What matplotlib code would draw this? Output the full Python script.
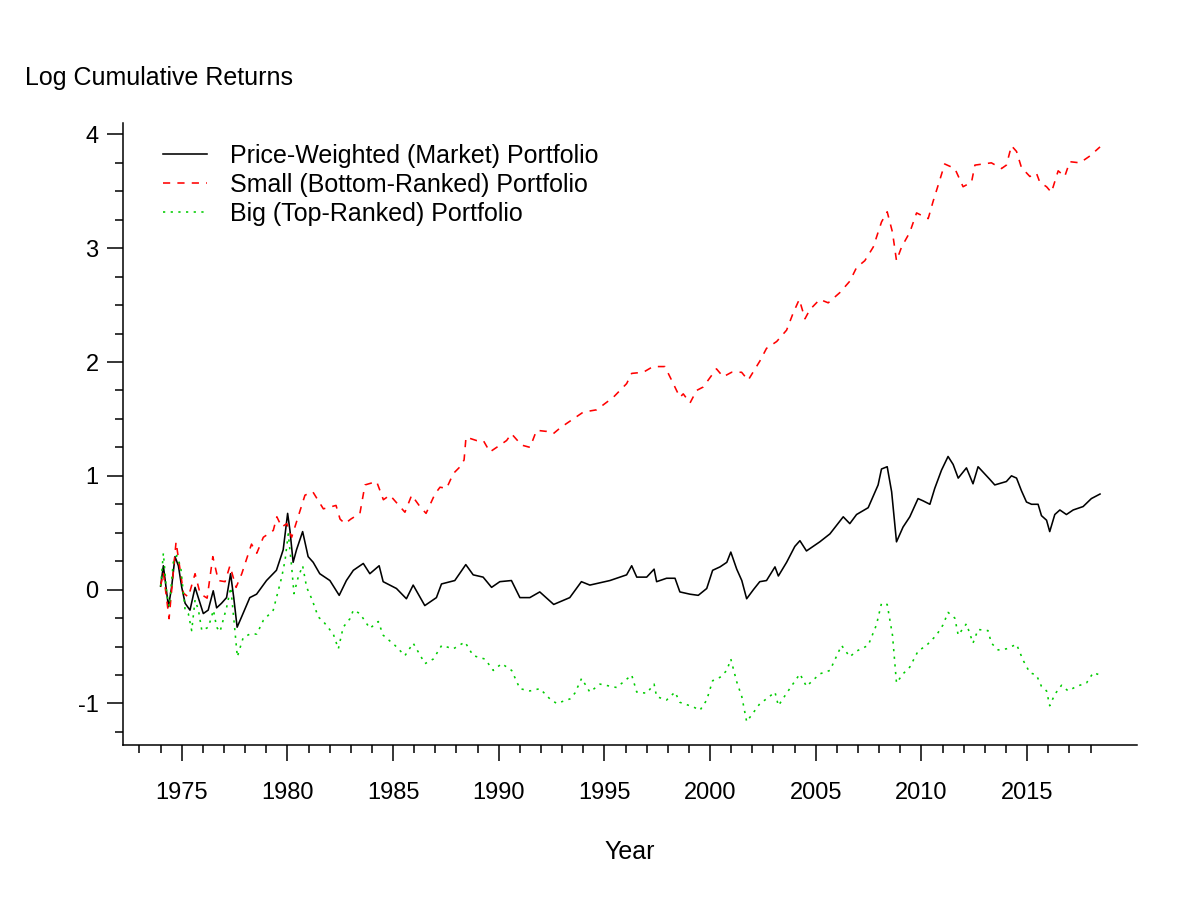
import matplotlib
matplotlib.use("Agg")
import matplotlib.pyplot as plt
import numpy as np

plt.rcParams['font.family'] = ['Liberation Sans', 'DejaVu Sans']

# ---------------- data ----------------
market_year = [1974.00, 1974.13, 1974.37, 1974.52, 1974.68, 1974.84, 1975.00, 1975.16, 1975.39, 1975.63,
               1975.87, 1976.02, 1976.25, 1976.49, 1976.65, 1976.88, 1977.12, 1977.31, 1977.46, 1977.62,
               1977.83, 1978.22, 1978.54, 1979.01, 1979.48, 1979.80, 1980.01, 1980.12, 1980.27, 1980.43,
               1980.72, 1980.98, 1981.22, 1981.53, 1982.01, 1982.45, 1982.79, 1983.12, 1983.59, 1983.90,
               1984.34, 1984.53, 1985.16, 1985.63, 1985.95, 1986.50, 1987.05, 1987.29, 1987.92, 1988.44,
               1988.79, 1989.26, 1989.66, 1990.05, 1990.60, 1991.00, 1991.47, 1991.94, 1992.60, 1993.36,
               1993.91, 1994.31, 1995.26, 1996.05, 1996.29, 1996.53, 1997.00, 1997.35, 1997.47, 1997.94,
               1998.34, 1998.57, 1999.05, 1999.44, 1999.84, 2000.12, 2000.47, 2000.79, 2000.98, 2001.26,
               2001.50, 2001.73, 2002.05, 2002.35, 2002.67, 2003.07, 2003.23, 2003.62, 2004.01, 2004.25,
               2004.56, 2005.19, 2005.67, 2006.30, 2006.61, 2006.93, 2007.48, 2007.95, 2008.11, 2008.38,
               2008.59, 2008.82, 2009.13, 2009.45, 2009.84, 2010.08, 2010.40, 2010.63, 2010.95, 2011.26,
               2011.50, 2011.74, 2012.13, 2012.44, 2012.68, 2013.23, 2013.47, 2014.02, 2014.26, 2014.50,
               2014.73, 2014.97, 2015.21, 2015.52, 2015.68, 2015.92, 2016.07, 2016.31, 2016.55, 2016.86,
               2017.18, 2017.65, 2018.04, 2018.45]
market_val = [0.03, 0.21, -0.15, 0.02, 0.29, 0.21, 0.02, -0.12, -0.18, 0.02,
              -0.12, -0.21, -0.18, -0.01, -0.16, -0.12, -0.07, 0.14, -0.07, -0.33,
              -0.24, -0.07, -0.04, 0.08, 0.17, 0.35, 0.67, 0.52, 0.24, 0.35,
              0.51, 0.29, 0.24, 0.14, 0.08, -0.05, 0.08, 0.17, 0.23, 0.14,
              0.21, 0.07, 0.01, -0.08, 0.04, -0.14, -0.07, 0.05, 0.08, 0.22,
              0.13, 0.11, 0.02, 0.07, 0.08, -0.07, -0.07, -0.02, -0.13, -0.07,
              0.07, 0.04, 0.08, 0.13, 0.21, 0.11, 0.11, 0.18, 0.07, 0.10,
              0.10, -0.02, -0.04, -0.05, 0.01, 0.17, 0.20, 0.24, 0.33, 0.18,
              0.08, -0.08, 0.00, 0.07, 0.08, 0.20, 0.12, 0.24, 0.38, 0.43,
              0.34, 0.42, 0.49, 0.64, 0.58, 0.66, 0.72, 0.92, 1.06, 1.08,
              0.86, 0.42, 0.55, 0.64, 0.80, 0.78, 0.75, 0.89, 1.05, 1.17,
              1.10, 0.98, 1.07, 0.93, 1.08, 0.97, 0.92, 0.95, 1.00, 0.98,
              0.87, 0.77, 0.75, 0.75, 0.65, 0.61, 0.51, 0.66, 0.70, 0.66,
              0.70, 0.73, 0.80, 0.84]

small_year = [1974.00, 1974.13, 1974.40, 1974.73, 1975.08, 1975.31, 1975.63, 1975.87, 1976.20, 1976.47,
              1976.73, 1977.05, 1977.28, 1977.57, 1977.84, 1978.30, 1978.55, 1978.86, 1979.33, 1979.50,
              1979.73, 1979.97, 1980.20, 1980.83, 1981.20, 1981.70, 1982.30, 1982.49, 1982.72, 1983.00,
              1983.43, 1983.67, 1984.22, 1984.54, 1984.85, 1985.56, 1985.88, 1986.27, 1986.56, 1986.98,
              1987.22, 1987.53, 1987.85, 1988.17, 1988.36, 1988.45, 1988.95, 1989.27, 1989.58, 1990.06,
              1990.37, 1990.60, 1991.08, 1991.48, 1991.79, 1992.27, 1992.58, 1992.90, 1993.21, 1994.00,
              1994.63, 1995.42, 1996.05, 1996.29, 1996.84, 1997.30, 1997.86, 1998.18, 1998.57, 1998.73,
              1999.05, 1999.36, 1999.67, 2000.30, 2000.62, 2001.02, 2001.49, 2001.80, 2002.36, 2002.67,
              2003.15, 2003.62, 2003.93, 2004.22, 2004.49, 2004.72, 2005.19, 2005.59, 2006.14, 2006.61,
              2006.93, 2007.32, 2007.72, 2008.11, 2008.38, 2008.63, 2008.82, 2009.06, 2009.45, 2009.77,
              2010.32, 2010.55, 2010.87, 2011.10, 2011.58, 2011.97, 2012.37, 2012.53, 2013.31, 2013.79,
              2014.02, 2014.26, 2014.50, 2014.73, 2015.13, 2015.44, 2015.60, 2015.92, 2016.15, 2016.47,
              2016.78, 2017.02, 2017.50, 2017.97, 2018.45]
small_val = [0.03, 0.15, -0.255, 0.42, -0.03, -0.065, 0.14, -0.035, -0.075, 0.29,
             0.08, 0.07, 0.21, 0.02, 0.14, 0.40, 0.32, 0.46, 0.52, 0.64,
             0.55, 0.58, 0.46, 0.83, 0.86, 0.71, 0.74, 0.62, 0.58, 0.62,
             0.67, 0.92, 0.95, 0.79, 0.83, 0.68, 0.83, 0.73, 0.67, 0.84,
             0.90, 0.89, 1.02, 1.08, 1.14, 1.34, 1.31, 1.31, 1.21, 1.27,
             1.31, 1.37, 1.27, 1.25, 1.40, 1.39, 1.37, 1.42, 1.46, 1.56,
             1.58, 1.69, 1.81, 1.90, 1.91, 1.96, 1.96, 1.84, 1.69, 1.72,
             1.64, 1.75, 1.78, 1.94, 1.87, 1.91, 1.91, 1.84, 2.01, 2.12,
             2.18, 2.28, 2.43, 2.55, 2.38, 2.46, 2.55, 2.52, 2.61, 2.71,
             2.83, 2.89, 3.01, 3.23, 3.32, 3.14, 2.89, 3.01, 3.14, 3.31,
             3.26, 3.41, 3.60, 3.74, 3.70, 3.54, 3.58, 3.73, 3.75, 3.70,
             3.73, 3.90, 3.85, 3.71, 3.63, 3.66, 3.58, 3.54, 3.49, 3.68,
             3.63, 3.76, 3.75, 3.81, 3.89]

big_year = [1974.00, 1974.13, 1974.29, 1974.41, 1974.60, 1974.76, 1974.95, 1975.16, 1975.31, 1975.47,
            1975.63, 1975.79, 1975.95, 1976.26, 1976.50, 1976.65, 1976.81, 1977.13, 1977.32, 1977.47,
            1977.63, 1977.91, 1978.23, 1978.55, 1978.86, 1979.33, 1979.73, 1979.89, 1980.04, 1980.20,
            1980.31, 1980.51, 1980.72, 1980.91, 1981.15, 1981.46, 1981.70, 1982.17, 1982.41, 1982.64,
            1982.96, 1983.12, 1983.43, 1983.90, 1984.30, 1984.53, 1985.09, 1985.56, 1985.95, 1986.51,
            1986.90, 1987.30, 1987.85, 1988.40, 1988.79, 1989.35, 1989.74, 1990.14, 1990.61, 1991.00,
            1991.47, 1991.95, 1992.42, 1992.74, 1993.37, 1993.60, 1993.92, 1994.31, 1994.79, 1995.58,
            1996.29, 1996.53, 1997.00, 1997.35, 1997.47, 1997.94, 1998.34, 1998.57, 1999.20, 1999.52,
            1999.84, 2000.12, 2000.47, 2000.79, 2000.98, 2001.26, 2001.50, 2001.73, 2002.05, 2002.36,
            2002.67, 2003.07, 2003.23, 2003.62, 2004.25, 2004.56, 2005.19, 2005.67, 2006.22, 2006.61,
            2006.93, 2007.48, 2007.87, 2008.11, 2008.38, 2008.63, 2008.82, 2009.13, 2009.45, 2009.84,
            2010.24, 2010.71, 2011.02, 2011.26, 2011.58, 2011.74, 2012.13, 2012.44, 2012.68, 2013.15,
            2013.31, 2013.63, 2014.02, 2014.50, 2014.81, 2015.13, 2015.44, 2015.68, 2015.92, 2016.07,
            2016.31, 2016.63, 2016.94, 2017.34, 2017.81, 2018.13, 2018.45]
big_val = [0.03, 0.32, -0.035, -0.15, 0.24, 0.30, 0.20, -0.18, -0.21, -0.36,
           -0.09, -0.18, -0.36, -0.33, -0.18, -0.33, -0.37, -0.15, 0.02, -0.27,
           -0.59, -0.42, -0.39, -0.39, -0.27, -0.18, 0.11, 0.26, 0.49, 0.20,
           -0.035, 0.11, 0.21, 0.02, -0.08, -0.24, -0.28, -0.39, -0.52, -0.33,
           -0.255, -0.18, -0.21, -0.34, -0.28, -0.40, -0.49, -0.58, -0.47, -0.65,
           -0.61, -0.49, -0.52, -0.46, -0.58, -0.61, -0.71, -0.65, -0.71, -0.87,
           -0.89, -0.87, -0.96, -1.00, -0.96, -0.91, -0.78, -0.90, -0.83, -0.86,
           -0.75, -0.90, -0.91, -0.83, -0.94, -0.97, -0.90, -0.99, -1.03, -1.06,
           -0.97, -0.80, -0.77, -0.71, -0.61, -0.81, -0.94, -1.16, -1.08, -1.00,
           -0.96, -0.90, -1.02, -0.91, -0.74, -0.85, -0.74, -0.71, -0.49, -0.59,
           -0.54, -0.49, -0.31, -0.12, -0.13, -0.40, -0.82, -0.74, -0.68, -0.54,
           -0.49, -0.40, -0.31, -0.20, -0.25, -0.40, -0.30, -0.47, -0.35, -0.36,
           -0.47, -0.53, -0.52, -0.48, -0.62, -0.73, -0.75, -0.85, -0.89, -1.02,
           -0.92, -0.84, -0.89, -0.85, -0.82, -0.73, -0.75]

legend_labels = ["Price-Weighted (Market) Portfolio",
                 "Small (Bottom-Ranked) Portfolio",
                 "Big (Top-Ranked) Portfolio"]
ytick_major = [-1, 0, 1, 2, 3, 4]
xtick_major = [1975, 1980, 1985, 1990, 1995, 2000, 2005, 2010, 2015]

# ---------------- figure ----------------
fig = plt.figure(figsize=(12, 9), dpi=100)
ax = fig.add_axes([123 / 1200, 1 - 745 / 900, (1137 - 123) / 1200, (745 - 123) / 900])

lw = 1.15
ax.plot(market_year, market_val, color='black', lw=lw, ls='-', label=legend_labels[0])
ax.plot(small_year, small_val, color='#ff0000', lw=lw, ls=(0, (4.5, 4.5)), label=legend_labels[1])
ax.plot(big_year, big_val, color='#00cc00', lw=lw, ls=(0, (1.4, 3.4)), label=legend_labels[2])

ax.set_xlim(1972.22, 2020.2)
ax.set_ylim(-1.365, 4.10)

for s in ['top', 'right']:
    ax.spines[s].set_visible(False)
for s in ['left', 'bottom']:
    ax.spines[s].set_linewidth(1.1)

ax.set_yticks(ytick_major)
ax.set_yticklabels([str(v) for v in ytick_major])
ax.set_yticks(np.arange(-1.25, 4.01, 0.25), minor=True)
ax.set_xticks(xtick_major)
ax.set_xticklabels([str(v) for v in xtick_major])
ax.set_xticks(np.arange(1973, 2019, 1), minor=True)

ax.tick_params(axis='both', which='major', length=11.5, width=1.1, labelsize=17, color='black')
ax.tick_params(axis='both', which='minor', length=5.5, width=1.1, color='black')
ax.tick_params(axis='y', which='major', pad=6)
ax.tick_params(axis='x', which='major', pad=15)

leg = ax.legend(loc='upper left', bbox_to_anchor=(0.039, 0.966), frameon=False,
                fontsize=18, handlelength=1.76, handletextpad=0.92, labelspacing=0.19,
                borderpad=0, borderaxespad=0)

fig.text(25 / 1200, 1 - 78 / 900, "Log Cumulative Returns", ha='left', va='center', fontsize=18)
fig.text(630 / 1200, 1 - 852 / 900, "Year", ha='center', va='center', fontsize=18)

fig.savefig("out.png", dpi=100, facecolor='white')
